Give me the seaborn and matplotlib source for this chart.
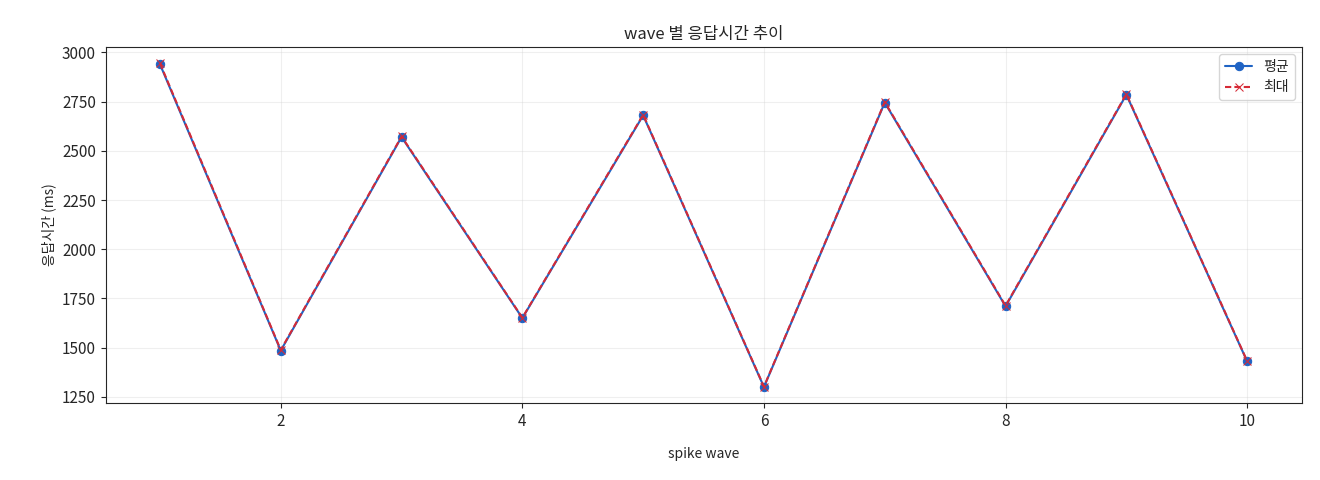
import matplotlib
matplotlib.use("Agg")
import matplotlib.pyplot as plt
import seaborn as sns
import pandas as pd

waves = [1, 2, 3, 4, 5, 6, 7, 8, 9, 10]
avg_ms = [2940, 1485, 2570, 1650, 2680, 1300, 2745, 1710, 2785, 1430]
max_ms = [2945, 1488, 2573, 1652, 2683, 1302, 2748, 1713, 2788, 1432]

sns.set_style("ticks")
plt.rcParams['font.family'] = ['Noto Sans CJK KR', 'DejaVu Sans']

df = pd.DataFrame({"wave": waves, "avg": avg_ms, "max": max_ms})
fig, ax = plt.subplots(figsize=(13.2, 4.8), dpi=100)
sns.lineplot(data=df, x="wave", y="avg", ax=ax, color="#1f63c4", marker="o",
             markersize=6, markeredgecolor="#1f63c4", label="평균", linewidth=1.5)
sns.lineplot(data=df, x="wave", y="max", ax=ax, color="#d62a36", marker="x",
             markersize=6, markeredgecolor="#d62a36", label="최대", linewidth=1.5)
ax.lines[1].set_linestyle((0, (3, 1.5)))
ax.set_title("wave 별 응답시간 추이", fontsize=12)
ax.set_xlabel("spike wave", fontsize=10, labelpad=12)
ax.set_ylabel("응답시간 (ms)", fontsize=10)
ax.tick_params(labelsize=11)
ax.grid(True, alpha=0.3)
ax.set_xticks([2, 4, 6, 8, 10])
leg = ax.legend(loc="upper right")
leg.get_lines()[1].set_linestyle((0, (3, 1.5)))
fig.subplots_adjust(left=0.08, right=0.986, top=0.902, bottom=0.16)
fig.savefig("out.png", dpi=100)
